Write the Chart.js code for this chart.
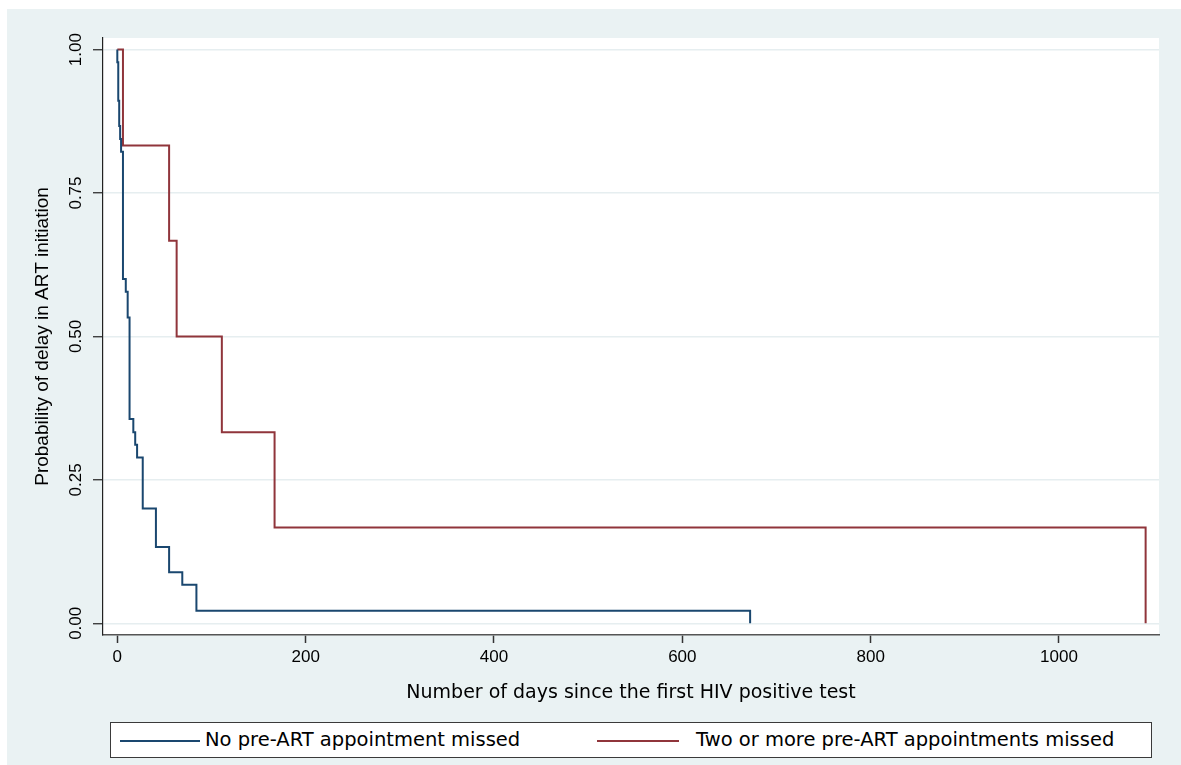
<!DOCTYPE html>
<html>
<head>
<meta charset="utf-8">
<script src="https://cdn.jsdelivr.net/npm/chart.js@4.4.1/dist/chart.umd.min.js"></script>
<style>
  html, body { margin: 0; padding: 0; background: #ffffff; width: 1181px; height: 765px; overflow: hidden; }
  #bg { position: absolute; left: 7px; top: 9px; right: 0; bottom: 0; background: #EAF2F3; }
  #chart { position: absolute; left: 0; top: 0; }
  #legend { position: absolute; left: 110px; top: 722px; width: 1040px; height: 34px; background: #fff;
            border: 1px solid #3a3a3a; font-family: "DejaVu Sans", "Liberation Sans", Arial, sans-serif; font-size: 19.5px; color: #000; }
  .item { position: absolute; top: 0; height: 34px; line-height: 34px; white-space: nowrap; }
  .swatch { position: absolute; top: 17px; height: 2px; }
</style>
</head>
<body>
<div id="bg"></div>
<canvas id="chart" width="1181" height="765"></canvas>
<div id="legend"></div>
<script>
// ---- data ----
const seriesNames = ["No pre-ART appointment missed", "Two or more pre-ART appointments missed"];
const blueDays = [0, 0, 1, 2, 3, 4, 6, 9, 11, 13, 17, 19, 21, 27, 41, 55, 69, 84, 672];
const blueSurv = [1, 0.978, 0.911, 0.867, 0.844, 0.822, 0.6, 0.578, 0.533, 0.356, 0.333, 0.311, 0.289, 0.2, 0.133, 0.089, 0.067, 0.022, 0];
const redDays = [0, 6, 55, 63, 111, 167, 1092];
const redSurv = [1, 0.833, 0.667, 0.5, 0.333, 0.167, 0];
const xTicks = [0, 200, 400, 600, 800, 1000];
const yTicks = [0, 0.25, 0.5, 0.75, 1];
const yTickLabels = ["0.00", "0.25", "0.50", "0.75", "1.00"];
const xTitle = "Number of days since the first HIV positive test";
const yTitle = "Probability of delay in ART initiation";
const colors = ["#1A476F", "#90353B"];

const FONT = '"Liberation Sans", Arial, sans-serif';
const WIDE_FONT = '"DejaVu Sans", "Liberation Sans", Arial, sans-serif';

function toPoints(xs, ys) { return xs.map((x, i) => ({ x: x, y: ys[i] })); }

const plotBg = {
  id: 'plotBg',
  beforeDraw(chart) {
    const { ctx, chartArea: a } = chart;
    ctx.save();
    ctx.fillStyle = '#ffffff';
    ctx.fillRect(a.left, a.top, a.right - a.left, a.bottom - a.top);
    ctx.restore();
  }
};

new Chart(document.getElementById('chart'), {
  type: 'line',
  data: {
    datasets: [
      { label: seriesNames[0], data: toPoints(blueDays, blueSurv), borderColor: colors[0], borderWidth: 2,
        stepped: true, pointRadius: 0, fill: false },
      { label: seriesNames[1], data: toPoints(redDays, redSurv), borderColor: colors[1], borderWidth: 2,
        stepped: true, pointRadius: 0, fill: false }
    ]
  },
  options: {
    responsive: false,
    animation: false,
    layout: { padding: { top: 38, right: 22, left: 0, bottom: 0 } },
    plugins: { legend: { display: false }, tooltip: { enabled: false } },
    scales: {
      x: {
        type: 'linear',
        min: -15.2,
        max: 1106.2,
        afterBuildTicks(s) { s.ticks = xTicks.map(v => ({ value: v })); },
        afterFit(s) { s.height = 130; },
        ticks: { font: { family: FONT, size: 17 }, color: '#000', padding: 4, maxRotation: 0,
                 callback: (v) => String(v) },
        grid: { drawOnChartArea: false, drawTicks: true, tickLength: 8, tickColor: '#333', tickWidth: 1.5 },
        border: { display: true, color: '#555', width: 1.6 },
        title: { display: true, text: xTitle, color: '#000', font: { family: WIDE_FONT, size: 19 },
                 padding: { top: 0, bottom: 61 } }
      },
      y: {
        type: 'linear',
        min: -0.0204,
        max: 1.0202,
        afterBuildTicks(s) { s.ticks = yTicks.map(v => ({ value: v })); },
        afterFit(s) { s.width = 103; },
        ticks: { font: { family: FONT, size: 17 }, color: '#000', padding: 0, minRotation: 90, maxRotation: 90,
                 crossAlign: 'center',
                 callback: (v) => { const i = yTicks.indexOf(v); return i >= 0 ? yTickLabels[i] : ''; } },
        grid: { color: '#E6EEF0', lineWidth: 1.5, drawTicks: true, tickLength: 10, tickColor: '#222', tickWidth: 1.2 },
        border: { display: true, color: '#222', width: 1.2 },
        title: { display: true, text: yTitle, color: '#000', font: { family: FONT, size: 19 },
                 padding: { top: 31, bottom: 0 } }
      }
    }
  },
  plugins: [plotBg]
});

// legend (HTML)
const legend = document.getElementById('legend');
const legendItems = [
  { lineLeft: 9, lineWidth: 80, textLeft: 94 },
  { lineLeft: 486, lineWidth: 82, textLeft: 585 }
];
legendItems.forEach((it, i) => {
  const sw = document.createElement('div');
  sw.className = 'swatch';
  sw.style.left = it.lineLeft + 'px';
  sw.style.width = it.lineWidth + 'px';
  sw.style.background = colors[i];
  legend.appendChild(sw);
  const t = document.createElement('div');
  t.className = 'item';
  t.style.left = it.textLeft + 'px';
  t.textContent = seriesNames[i];
  legend.appendChild(t);
});
</script>
</body>
</html>
